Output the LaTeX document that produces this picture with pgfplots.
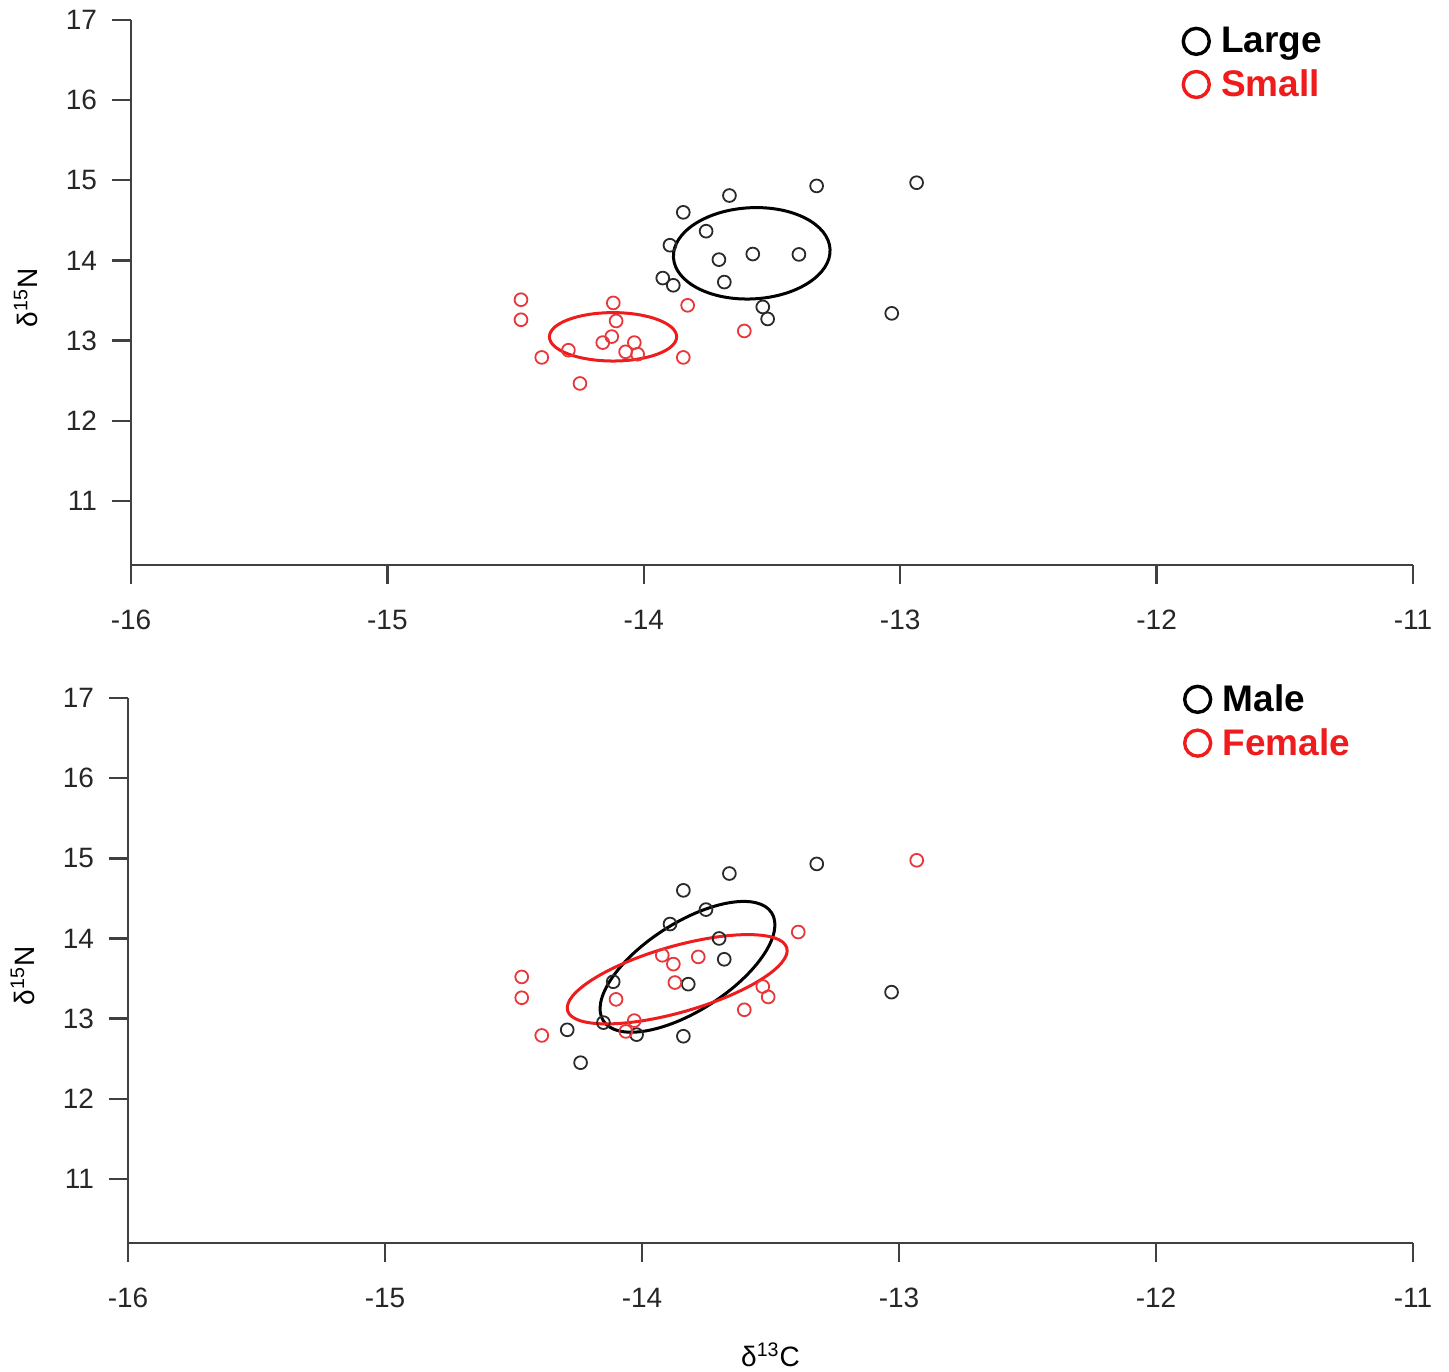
\documentclass[border=0pt]{standalone}
\usepackage{pgfplots}
\pgfplotsset{compat=1.18}
\usepackage{fontspec}
\setmainfont{Liberation Sans}
\definecolor{ptblack}{HTML}{2A2A2A}
\definecolor{ptred}{HTML}{E8373A}
\definecolor{axgray}{HTML}{404040}
\definecolor{elred}{HTML}{EE1C1C}

\pgfplotsset{
  myaxis/.style={
    scale only axis, width=641pt, height=272.5pt,
    xmin=-16, xmax=-11, ymin=10.2, ymax=17,
    axis lines*=left,
    axis line style={axgray, line width=1.2pt},
    xtick={-16,-15,-14,-13,-12,-11}, ytick={11,12,13,14,15,16,17},
    tick align=outside, major tick length=9.5pt,
    tick style={axgray, line width=1.2pt},
    every tick label/.append style={font=\fontsize{14}{16}\selectfont, text=black!85},
    xticklabel style={yshift=-9.5pt},
    yticklabel style={xshift=-4pt},
    /pgf/number format/assume math mode=true,
    clip=false,
    every axis y label/.style={at={(axis description cs:-0.082,0.49)}, rotate=90, anchor=center, font=\fontsize{14}{16}\selectfont},
    ylabel={δ\textsuperscript{15}N},
    legend style={draw=none, fill=none, font=\fontsize{18.5}{22}\selectfont\bfseries,
      anchor=north west, row sep=3pt, inner sep=0pt},
    legend cell align=left,
  },
  bk/.style={only marks, mark=o, mark size=3.2pt, color=ptblack, mark options={line width=0.9pt}, forget plot},
  rd/.style={only marks, mark=o, mark size=3.2pt, color=ptred, mark options={line width=0.9pt}, forget plot},
  lgk/.style={only marks, mark=o, mark size=6.5pt, color=black, mark options={line width=1.7pt}},
  lgr/.style={only marks, mark=o, mark size=6.5pt, color=elred, mark options={line width=1.7pt}},
}

\begin{document}
\begin{tikzpicture}
\useasboundingbox (-65.5pt,10pt) rectangle (659pt,-675.5pt);

% ---------------- top panel ----------------
\begin{axis}[myaxis, at={(0pt,0pt)}, anchor=north west,
  legend style={at={(axis description cs:0.8205,0.995)}}]
\addplot[bk] coordinates {
(-13.326,14.93) (-12.936,14.97) (-13.666,14.81) (-13.846,14.60) (-13.757,14.365)
(-13.898,14.19) (-13.575,14.08) (-13.395,14.075) (-13.707,14.01) (-13.926,13.78)
(-13.885,13.69) (-13.686,13.73) (-13.536,13.42) (-13.517,13.27) (-13.033,13.34)
};
\addplot[rd] coordinates {
(-14.479,13.51) (-14.479,13.26) (-14.119,13.47) (-14.108,13.245) (-13.829,13.44)
(-13.608,13.12) (-14.125,13.05) (-14.160,12.975) (-14.037,12.975) (-14.294,12.88)
(-14.071,12.86) (-14.024,12.83) (-14.398,12.79) (-13.846,12.79) (-14.249,12.465)
};
\addlegendimage{lgk}\addlegendentry{\hspace{4pt}Large}
\addlegendimage{lgr}\addlegendentry{\hspace{4pt}\textcolor{elred}{Small}}
\draw[black, line width=1.5pt, rotate around={3:(axis cs:-13.579,14.089)}]
  (axis cs:-13.579,14.089) ellipse [x radius=39.2pt, y radius=22.8pt];
\draw[elred, line width=1.5pt]
  (axis cs:-14.120,13.047) ellipse [x radius=31.8pt, y radius=12.1pt];
\end{axis}

% ---------------- bottom panel ----------------
\begin{axis}[myaxis, at={(-1.5pt,-339pt)}, anchor=north west, width=642.5pt,
  legend style={at={(axis description cs:0.822,1.033)}},
  xlabel={δ\textsuperscript{13}C},
  every axis x label/.style={at={(axis description cs:0.5,-0.2055)}, anchor=center, font=\fontsize{14}{16}\selectfont}]
\addplot[bk] coordinates {
(-13.320,14.93) (-13.660,14.81) (-13.839,14.60) (-13.751,14.36) (-13.891,14.18)
(-13.700,14.00) (-13.680,13.74) (-14.112,13.46) (-13.820,13.43) (-13.029,13.33)
(-14.150,12.95) (-14.291,12.86) (-14.021,12.80) (-13.839,12.78) (-14.239,12.45)
};
\addplot[rd] coordinates {
(-12.931,14.975) (-13.392,14.08) (-13.921,13.79) (-13.781,13.77) (-13.878,13.68)
(-13.872,13.45) (-14.468,13.52) (-14.468,13.26) (-14.101,13.24) (-13.530,13.40)
(-13.509,13.27) (-13.602,13.11) (-14.030,12.975) (-14.063,12.84) (-14.390,12.79)
};
\addlegendimage{lgk}\addlegendentry{\hspace{4pt}Male}
\addlegendimage{lgr}\addlegendentry{\hspace{4pt}\textcolor{elred}{Female}}
\draw[black, line width=1.5pt, rotate around={32.7:(axis cs:-13.823,13.646)}]
  (axis cs:-13.823,13.646) ellipse [x radius=50pt, y radius=21.9pt];
\draw[elred, line width=1.5pt, rotate around={16:(axis cs:-13.863,13.491)}]
  (axis cs:-13.863,13.491) ellipse [x radius=57pt, y radius=16.5pt];
\end{axis}
\end{tikzpicture}
\end{document}
